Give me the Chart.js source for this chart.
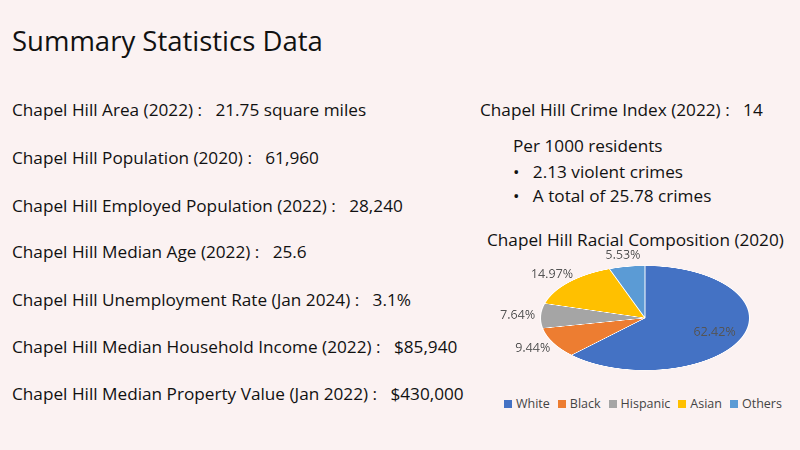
<!DOCTYPE html>
<html><head><meta charset="utf-8">
<script src="https://cdn.jsdelivr.net/npm/chart.js@4"></script>
<style>
body{margin:0;width:800px;height:450px;background:#fbf2f2;position:relative;overflow:hidden;font-family:"Open Sans",sans-serif;color:#111}
.t{position:absolute;white-space:nowrap;font-size:17.2px;line-height:22px}
#title{left:12px;top:24px;font-size:27.5px;line-height:34px}
#pie{position:absolute;left:495px;top:243px;transform:scaleY(0.5);transform-origin:0 0}
#legend{position:absolute;left:496px;top:395px;font-size:12.5px;color:#444;white-space:nowrap}
#legend span.b{display:inline-block;width:8px;height:8px;margin:0 4px 0 8px}
</style></head><body>
<div id="title" class="t">Summary Statistics Data</div>
<div class="t" style="left:12px;top:99px">Chapel Hill Area (2022) :&nbsp;&nbsp; 21.75 square miles</div>
<div class="t" style="left:12px;top:147px">Chapel Hill Population (2020) :&nbsp;&nbsp; 61,960</div>
<div class="t" style="left:12px;top:195px">Chapel Hill Employed Population (2022) :&nbsp;&nbsp; 28,240</div>
<div class="t" style="left:12px;top:241px">Chapel Hill Median Age (2022) :&nbsp;&nbsp; 25.6</div>
<div class="t" style="left:12px;top:289px">Chapel Hill Unemployment Rate (Jan 2024) :&nbsp;&nbsp; 3.1%</div>
<div class="t" style="left:12px;top:336px">Chapel Hill Median Household Income (2022) :&nbsp;&nbsp; $85,940</div>
<div class="t" style="left:12px;top:383px">Chapel Hill Median Property Value (Jan 2022) :&nbsp;&nbsp; $430,000</div>
<div class="t" style="left:480px;top:99px">Chapel Hill Crime Index (2022) :&nbsp;&nbsp; 14</div>
<div class="t" style="left:513px;top:135px">Per 1000 residents</div>
<div class="t" style="left:513px;top:161px">•&nbsp;&nbsp; 2.13 violent crimes</div>
<div class="t" style="left:513px;top:185px">•&nbsp;&nbsp; A total of 25.78 crimes</div>
<div class="t" style="left:487px;top:229px">Chapel Hill Racial Composition (2020)</div>
<canvas id="pie" width="300" height="300"></canvas>
<div id="legend"></div>
<script>
const categories=["White","Black","Hispanic","Asian","Others"];
const values=[62.42,9.44,7.64,14.97,5.53];
const colors=["#4472c4","#ed7d31","#a5a5a5","#ffc000","#5b9bd5"];
document.getElementById('legend').innerHTML=categories.map((c,i)=>`<span class="b" style="background:${colors[i]}"></span>${c}`).join('');
const labelPlugin={id:'lbl',afterDatasetsDraw(chart){
 const ctx=chart.ctx;const meta=chart.getDatasetMeta(0);
 ctx.save();ctx.font='12.5px "Open Sans"';ctx.fillStyle='#555';ctx.textAlign='center';ctx.textBaseline='middle';
 meta.data.forEach((a,i)=>{const mid=(a.startAngle+a.endAngle)/2;const r=i===0?a.outerRadius*0.72:a.outerRadius*1.22;
  const x=a.x+Math.cos(mid)*r,y=a.y+Math.sin(mid)*r;
  ctx.save();ctx.translate(x,y);ctx.scale(1,2);ctx.fillText(values[i].toFixed(2)+'%',0,0);ctx.restore();});
 ctx.restore();}};
new Chart(document.getElementById('pie'),{type:'pie',
 data:{labels:categories,datasets:[{data:values,backgroundColor:colors,borderColor:'#ffffff',borderWidth:1}]},
 options:{responsive:false,animation:false,devicePixelRatio:2,layout:{padding:45},
  plugins:{legend:{display:false},tooltip:{enabled:false}}},plugins:[labelPlugin]});
</script>
</body></html>
